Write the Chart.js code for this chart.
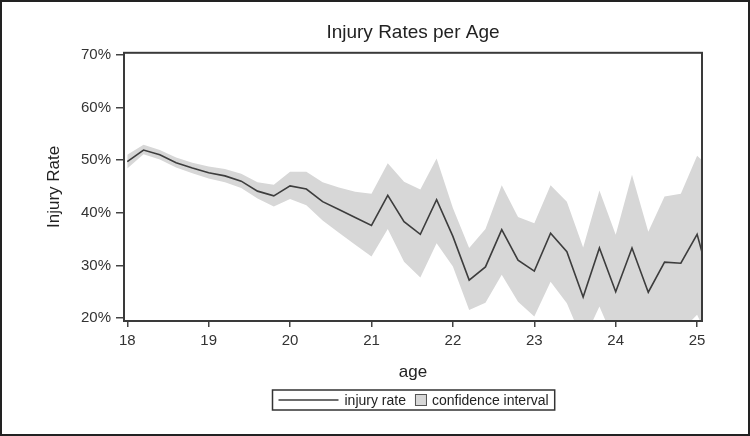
<!DOCTYPE html>
<html>
<head>
<meta charset="utf-8">
<title>Injury Rates per Age</title>
<script src="https://cdn.jsdelivr.net/npm/chart.js@4.4.1/dist/chart.umd.min.js"></script>
<style>
  html, body { margin: 0; padding: 0; background: #fff; }
  #wrap { width: 750px; height: 436px; }
</style>
</head>
<body>
<div id="wrap"><canvas id="chart" width="750" height="436"></canvas></div>
<script>
// ages are in steps of 0.2 years; the last point sits just past the axis and gets clipped
const ages = [18.0, 18.2, 18.4, 18.6, 18.8, 19.0, 19.2, 19.4, 19.6, 19.8,
              20.0, 20.2, 20.4, 20.6, 20.8, 21.0, 21.2, 21.4, 21.6, 21.8,
              22.0, 22.2, 22.4, 22.6, 22.8, 23.0, 23.2, 23.4, 23.6, 23.8,
              24.0, 24.2, 24.4, 24.6, 24.8, 25.0, 25.2];
const injuryRate = [49.7, 51.9, 51.0, 49.5, 48.5, 47.6, 47.0, 46.0, 44.1, 43.2,
                    45.1, 44.5, 42.1, 40.6, 39.1, 37.6, 43.3, 38.3, 35.9, 42.5,
                    35.5, 27.2, 29.7, 36.8, 31.0, 28.9, 36.1, 32.6, 24.0, 33.3,
                    25.0, 33.3, 24.9, 30.6, 30.4, 35.9, 24.5];
const ciHigh = [51.0, 52.9, 51.9, 50.5, 49.5, 48.8, 48.3, 47.4, 45.8, 45.3,
                47.8, 47.8, 45.8, 44.8, 44.0, 43.6, 49.4, 45.9, 44.4, 50.3,
                40.9, 33.3, 36.9, 45.2, 39.2, 38.0, 45.2, 42.1, 33.4, 44.2,
                35.8, 47.2, 36.4, 43.1, 43.6, 50.8, 48.0];
const ciLow = [48.4, 51.1, 50.1, 48.6, 47.5, 46.5, 45.8, 44.7, 42.7, 41.2,
               42.6, 41.4, 38.5, 36.2, 33.9, 31.7, 36.9, 30.7, 27.7, 34.2,
               29.8, 21.5, 22.9, 28.2, 23.1, 20.3, 26.9, 22.8, 15.5, 22.2,
               15.0, 19.0, 15.0, 17.5, 17.5, 20.6, 14.0];
const xTicks = [18, 19, 20, 21, 22, 23, 24, 25];
const yTicks = [20, 30, 40, 50, 60, 70];

const FONT = '"Liberation Sans", Arial, sans-serif';
const INK = '#333';
const LINE_COLOR = '#3d3d3d';
const BAND_COLOR = '#d7d7d7';

const pts = vals => ages.map((a, i) => ({ x: a, y: vals[i] }));

// box around the plot area
const frame = {
  id: 'frame',
  afterDatasetsDraw(chart) {
    const { ctx, chartArea: a } = chart;
    ctx.save();
    ctx.strokeStyle = '#3a3a3a';
    ctx.lineWidth = 2;
    ctx.strokeRect(a.left, a.top, a.right - a.left, a.bottom - a.top);
    ctx.restore();
  }
};

// legend in a bordered box under the axis title, plus the outer border
const legendBox = {
  id: 'legendBox',
  afterDraw(chart) {
    const { ctx, chartArea: a } = chart;
    const ds = chart.data.datasets;
    ctx.save();
    ctx.font = '14px ' + FONT;
    ctx.textBaseline = 'middle';
    const t1 = ds[0].label, t2 = ds[1].label;
    const w1 = ctx.measureText(t1).width, w2 = ctx.measureText(t2).width;
    const lineW = 60, sq = 12;
    const total = 6 + lineW + 6 + w1 + 9 + sq + 5 + w2 + 6;
    const cy = 400;
    let x = Math.round((a.left + a.right) / 2 - total / 2) + 0.5;
    ctx.strokeStyle = '#333';
    ctx.lineWidth = 1.5;
    ctx.strokeRect(x, cy - 10, total, 20);
    x += 6;
    ctx.strokeStyle = LINE_COLOR;
    ctx.lineWidth = 1.5;
    ctx.beginPath();
    ctx.moveTo(x, cy);
    ctx.lineTo(x + lineW, cy);
    ctx.stroke();
    x += lineW + 6;
    ctx.fillStyle = '#222';
    ctx.fillText(t1, x, cy + 1);
    x += w1 + 9;
    ctx.fillStyle = BAND_COLOR;
    ctx.fillRect(x, cy - sq / 2, sq, sq);
    ctx.strokeStyle = '#555';
    ctx.lineWidth = 1;
    ctx.strokeRect(x + 0.5, cy - sq / 2 + 0.5, sq - 1, sq - 1);
    x += sq + 5;
    ctx.fillStyle = '#222';
    ctx.fillText(t2, x, cy + 1);

    ctx.strokeStyle = '#222';
    ctx.lineWidth = 2;
    ctx.strokeRect(1, 1, chart.width - 2, chart.height - 2);
    ctx.restore();
  }
};

new Chart(document.getElementById('chart'), {
  type: 'line',
  data: {
    datasets: [
      { label: 'injury rate', data: pts(injuryRate), borderColor: LINE_COLOR, borderWidth: 1.6,
        pointRadius: 0, fill: false, tension: 0 },
      { label: 'confidence interval', data: pts(ciHigh), borderColor: 'rgba(0,0,0,0)', borderWidth: 0,
        backgroundColor: BAND_COLOR, pointRadius: 0, fill: '+1', tension: 0 },
      { label: 'ci low', data: pts(ciLow), borderColor: 'rgba(0,0,0,0)', borderWidth: 0,
        pointRadius: 0, fill: false, tension: 0 }
    ]
  },
  options: {
    responsive: false,
    animation: false,
    events: [],
    layout: { padding: { left: 0, right: 48, top: 0, bottom: 51 } },
    plugins: {
      legend: { display: false },
      tooltip: { enabled: false },
      title: {
        display: true,
        fullSize: false,
        text: 'Injury Rates per Age',
        color: '#222',
        font: { family: FONT, size: 19, weight: 'normal' },
        padding: { top: 21, bottom: 9 }
      }
    },
    scales: {
      x: {
        type: 'linear',
        min: 17.96,
        max: 25.06,
        afterBuildTicks: s => { s.ticks = xTicks.map(v => ({ value: v })); },
        afterFit: s => { s.height = 64; },
        border: { display: false },
        grid: { drawOnChartArea: false, tickLength: 6, color: '#444', lineWidth: 1.5 },
        ticks: { color: INK, font: { family: FONT, size: 15 }, padding: 5, maxRotation: 0, autoSkip: false },
        title: { display: true, text: 'age', color: '#222', font: { family: FONT, size: 17 },
                 padding: { top: 4, bottom: 2 } }
      },
      y: {
        min: 19.43,
        max: 70.38,
        afterBuildTicks: s => { s.ticks = yTicks.map(v => ({ value: v })); },
        afterFit: s => { s.width = 124; },
        border: { display: false },
        grid: { drawOnChartArea: false, tickLength: 8, color: '#444', lineWidth: 1.5 },
        ticks: { color: INK, font: { family: FONT, size: 15 }, padding: 5, callback: v => v + '%' },
        title: { display: true, text: 'Injury Rate', color: '#222', font: { family: FONT, size: 17 },
                 padding: { top: 44, bottom: 0 } }
      }
    }
  },
  plugins: [frame, legendBox]
});
</script>
</body>
</html>
